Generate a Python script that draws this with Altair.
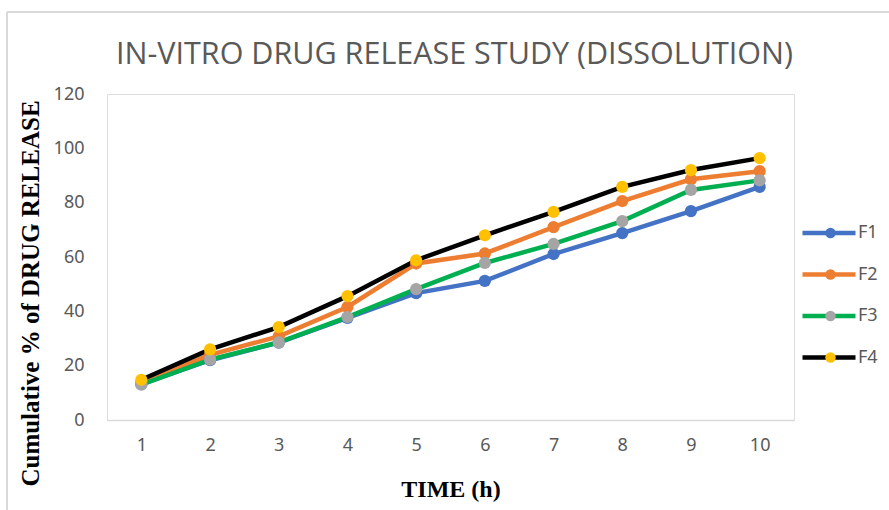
import altair as alt
import pandas as pd

time_h = [1, 2, 3, 4, 5, 6, 7, 8, 9, 10]
series_names = ["F1", "F2", "F3", "F4"]
f1 = [13.2, 22.0, 28.5, 37.6, 46.7, 51.2, 61.1, 68.8, 76.9, 85.8]
f2 = [14.0, 24.0, 30.8, 41.6, 57.6, 61.3, 71.0, 80.6, 88.6, 91.6]
f3 = [13.0, 22.2, 28.6, 37.9, 48.2, 57.8, 64.8, 73.2, 84.7, 88.2]
f4 = [14.8, 26.0, 34.2, 45.6, 58.8, 68.0, 76.6, 85.8, 92.0, 96.4]
line_colors = ["#4472C4", "#ED7D31", "#00B050", "#000000"]
marker_colors = ["#4472C4", "#ED7D31", "#A5A5A5", "#FFC000"]
y_ticks = [0, 20, 40, 60, 80, 100, 120]

rows = []
for name, vals in zip(series_names, [f1, f2, f3, f4]):
    for t, v in zip(time_h, vals):
        rows.append({"Time": t, "Release": v, "Series": name})
df = pd.DataFrame(rows)

W, H = 687, 326
LEG_X, LEG_Y = 693, 129

x_enc = alt.X(
    "Time:Q",
    scale=alt.Scale(domain=[0.5, 10.5], nice=False, zero=False),
    axis=alt.Axis(
        values=time_h, format="d", title="TIME (h)", grid=False, ticks=False,
        tickSize=0, domainColor="#D9D9D9", domainWidth=1.5,
        labelFont="Noto Sans", labelFontSize=18, labelColor="#595959",
        labelPadding=16,
        titleFont="Liberation Serif", titleFontWeight="bold", titleFontSize=24,
        titleColor="#000000", titleY=69, titleBaseline="middle",
    ),
)
y_enc = alt.Y(
    "Release:Q",
    scale=alt.Scale(domain=[0, 120], nice=False),
    axis=alt.Axis(
        values=y_ticks, title="Cumulative % of DRUG RELEASE", grid=False,
        ticks=False, tickSize=0, domain=False,
        labelFont="Noto Sans", labelFontSize=18, labelColor="#595959",
        labelPadding=23,
        titleFont="Liberation Serif", titleFontWeight="bold", titleFontSize=25,
        titleColor="#000000", titleX=-77, titleY=199, titleAngle=-90,
        titleBaseline="middle", titleAlign="center",
    ),
)

lines = alt.Chart(df).mark_line(strokeWidth=4.5).encode(
    x=x_enc,
    y=y_enc,
    color=alt.Color(
        "Series:N",
        scale=alt.Scale(domain=series_names, range=line_colors),
        legend=alt.Legend(
            title=None, orient="none", legendX=LEG_X, legendY=LEG_Y,
            symbolType="stroke", symbolSize=2809, symbolStrokeWidth=4.5,
            clipHeight=20, rowPadding=21.5, padding=0,
            labelFont="Noto Sans", labelFontSize=18, labelColor="#595959",
            labelOffset=0,
        ),
    ),
    detail="Series:N",
)

points = alt.Chart(df).mark_point(filled=True, size=150, opacity=1).encode(
    x="Time:Q",
    y="Release:Q",
    fill=alt.Fill(
        "Series:N",
        scale=alt.Scale(range=marker_colors),
        legend=alt.Legend(
            title=None, orient="none", legendX=LEG_X + 21.5, legendY=LEG_Y,
            symbolType="circle", symbolSize=110, symbolStrokeWidth=0,
            symbolOpacity=1,
            clipHeight=20, rowPadding=21.5, padding=0,
            labelFont="Noto Sans", labelFontSize=18, labelExpr="''",
        ),
    ),
)

frame_top = alt.Chart(df).mark_rule(color="#D9D9D9", strokeWidth=1.5).encode(
    x=alt.value(-100), x2=alt.value(790), y=alt.value(-82)
)
frame_left = alt.Chart(df).mark_rule(color="#D9D9D9", strokeWidth=1.5).encode(
    x=alt.value(-100), y=alt.value(-82), y2=alt.value(420)
)

chart = alt.layer(frame_top, frame_left, lines, points).properties(
    width=W,
    height=H,
    autosize=alt.AutoSizeParams(type="none"),
    padding={"left": 107, "top": 94, "right": 95, "bottom": 90},
    title=alt.Title(
        "IN-VITRO DRUG RELEASE STUDY (DISSOLUTION)",
        font="Liberation Sans Narrow, Open Sans",
        fontSize=30.5, fontWeight="normal", color="#595959",
        anchor="middle", baseline="alphabetic", offset=-83, dx=4,
        frame="group",
    ),
).configure_view(stroke=None).configure(background="white")

chart.save("out.html", embed_options={"renderer": "svg", "actions": False})
